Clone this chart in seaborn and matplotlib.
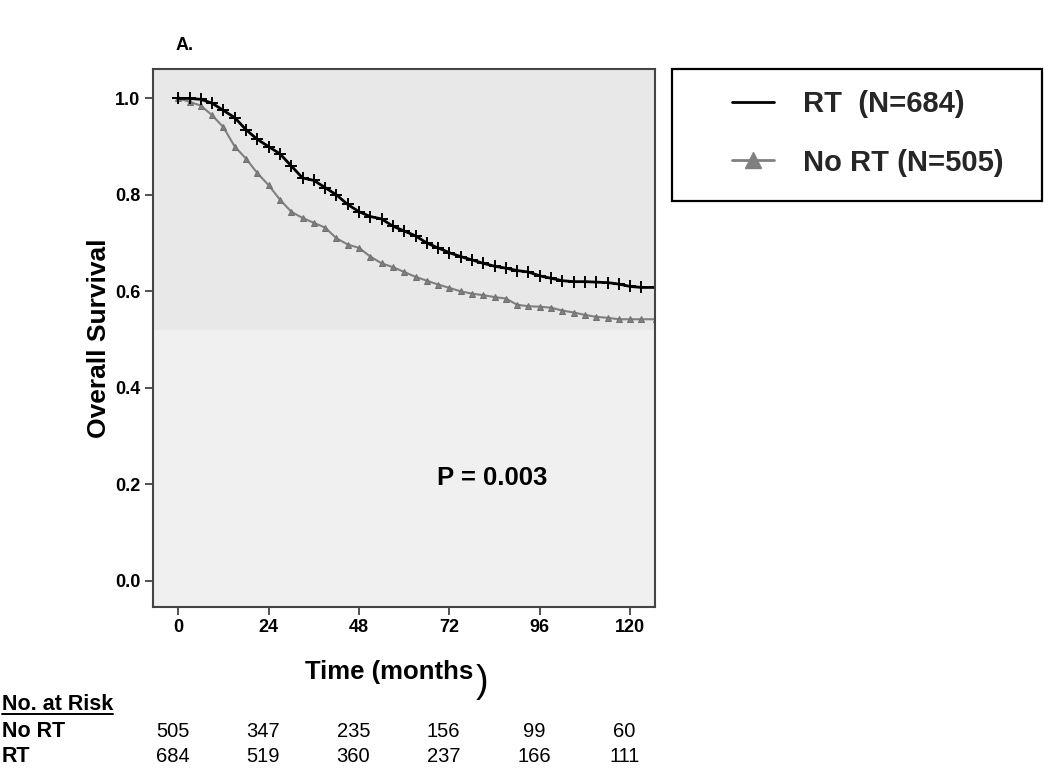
"""Kaplan-Meier overall survival, RT vs No RT."""
import pandas as pd
import matplotlib
matplotlib.use("Agg")
import matplotlib.pyplot as plt
import matplotlib.transforms as mtransforms
from matplotlib.lines import Line2D
from matplotlib.patches import Rectangle
import seaborn as sns

sns.set_theme(style="white")
plt.rcParams["font.family"] = ["Liberation Sans", "DejaVu Sans"]

# survival curves (months, proportion)
months = [0, 3, 6, 9, 12, 15, 18, 21, 24, 27, 30, 33, 36, 39, 42, 45, 48, 51,
          54, 57, 60, 63, 66, 69, 72, 75, 78, 81, 84, 87, 90, 93, 96, 99, 102,
          105, 108, 111, 114, 117, 120, 123, 127]
surv_rt = [1.0, 1.0, 0.998, 0.99, 0.975, 0.96, 0.935, 0.915, 0.9, 0.885, 0.86,
           0.835, 0.83, 0.815, 0.80, 0.78, 0.765, 0.755, 0.75, 0.735, 0.725,
           0.715, 0.70, 0.69, 0.68, 0.672, 0.665, 0.658, 0.652, 0.648, 0.643,
           0.64, 0.632, 0.627, 0.622, 0.62, 0.62, 0.619, 0.618, 0.615, 0.61,
           0.608, 0.608]
surv_nort = [1.0, 0.993, 0.985, 0.965, 0.94, 0.9, 0.875, 0.845, 0.82, 0.79,
             0.765, 0.752, 0.742, 0.732, 0.71, 0.697, 0.69, 0.672, 0.658, 0.65,
             0.64, 0.63, 0.622, 0.614, 0.607, 0.60, 0.595, 0.592, 0.588, 0.585,
             0.572, 0.569, 0.568, 0.566, 0.56, 0.556, 0.551, 0.547, 0.545,
             0.542, 0.542, 0.542, 0.542]

xticks = [0, 24, 48, 72, 96, 120]
yticks = [0.0, 0.2, 0.4, 0.6, 0.8, 1.0]
risk_nort = [505, 347, 235, 156, 99, 60]
risk_rt = [684, 519, 360, 237, 166, 111]

df = pd.concat([
    pd.DataFrame({"month": months, "surv": surv_rt, "group": "RT"}),
    pd.DataFrame({"month": months, "surv": surv_nort, "group": "No RT"}),
])

fig = plt.figure(figsize=(10.5, 7.69), dpi=100)
ax = fig.add_axes([0.1454, 0.2111, 0.4784, 0.6992])
ax.set_facecolor("#f0f0f0")
ax.axhspan(0.52, 1.1, color="#e8e8e8", zorder=0, lw=0)

sns.lineplot(data=df[df["group"] == "No RT"], x="month", y="surv",
             color="#808080", marker="^", markersize=5,
             markeredgecolor="#707070", markerfacecolor="#808080",
             linewidth=1.5, errorbar=None, legend=False, ax=ax)
sns.lineplot(data=df[df["group"] == "RT"], x="month", y="surv",
             color="black", marker="+", markersize=8,
             markeredgecolor="black", markeredgewidth=1.4, linewidth=2,
             errorbar=None, legend=False, ax=ax)

ax.set_xlim(-6.8, 126.6)
ax.set_ylim(-0.054, 1.061)
ax.set_xticks(xticks)
ax.set_yticks(yticks)
ax.set_yticklabels([f"{v:.1f}" for v in yticks])
ax.tick_params(axis="both", direction="out", length=6, width=1.2,
               color="#333333", labelsize=13, labelcolor="black",
               bottom=True, left=True, pad=3)
for lab in ax.get_xticklabels() + ax.get_yticklabels():
    lab.set_fontweight("bold")
for sp in ax.spines.values():
    sp.set_color("#444444")
    sp.set_linewidth(1.5)

ax.set_xlabel("")
ax.set_ylabel("Overall Survival", fontsize=19, fontweight="bold",
              color="black")
ax.yaxis.set_label_coords(-0.083, 0.5)

# axis title with its oversized closing parenthesis
xt = fig.text(0.2905, 0.1167, "Time (months", fontsize=18.5,
              fontweight="bold", ha="left", va="baseline", color="black")
fig.canvas.draw()
bb = xt.get_window_extent().transformed(fig.transFigure.inverted())
fig.text(bb.x1 + 0.002, 0.113, ")", fontsize=27, ha="left", va="center",
         color="black")

ax.text(83.3, 0.213, "P = 0.003", fontsize=18.5, fontweight="bold",
        ha="center", va="center", color="black")
fig.text(0.176, 0.941, "A.", fontsize=13, fontweight="bold", ha="center",
         va="center", color="black")

# legend in a square box
fig.add_artist(Rectangle((0.6397, 0.7386), 0.3526, 0.1717,
                         transform=fig.transFigure, fill=False,
                         edgecolor="black", lw=1.6))
handles = [Line2D([], [], color="black", lw=2),
           Line2D([], [], color="#808080", lw=2, marker="^", markersize=12,
                  markeredgecolor="#808080")]
fig.legend(handles, ["RT  (N=684)", "No RT (N=505)"],
           loc="center left", bbox_to_anchor=(0.6971, 0.8267),
           prop={"size": 21, "weight": "bold"}, frameon=False,
           handlelength=1.45, handletextpad=1.0, borderpad=0,
           labelspacing=1.05, borderaxespad=0)

# number at risk table
trans = mtransforms.blended_transform_factory(ax.transData, fig.transFigure)
fig.text(0.002, 0.0767, "No. at Risk", fontsize=15.5, fontweight="bold",
         va="baseline", color="black")
fig.add_artist(Line2D([0.002, 0.1076], [0.0715, 0.0715], color="black",
                      lw=1.4, transform=fig.transFigure))
fig.text(0.002, 0.0416, "No RT", fontsize=15.5, fontweight="bold",
         va="baseline", color="black")
fig.text(0.002, 0.0090, "RT", fontsize=15.5, fontweight="bold",
         va="baseline", color="black")
for x, a, b in zip(xticks, risk_nort, risk_rt):
    fig.text(x - 1.5, 0.0416, str(a), fontsize=14.5, ha="center",
             va="baseline", transform=trans, color="black")
    fig.text(x - 1.5, 0.0090, str(b), fontsize=14.5, ha="center",
             va="baseline", transform=trans, color="black")

fig.savefig("out.png", dpi=100, facecolor="white")
